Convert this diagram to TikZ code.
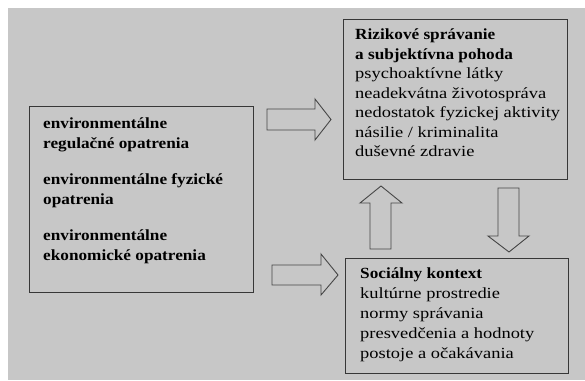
\documentclass[tikz,border=0pt]{standalone}
\usepackage{fontspec}
\setmainfont{Liberation Serif}[FakeStretch=1.19, BoldFeatures={FakeStretch=1.11}]
\definecolor{bg}{RGB}{199,199,199}
\definecolor{edge}{RGB}{55,55,55}
\definecolor{arrowedge}{RGB}{70,70,70}
\begin{document}
\begin{tikzpicture}[x=1pt,y=-1pt,
  box/.style={draw=edge, line width=1.2pt, inner sep=0, anchor=north west},
  txt/.style={anchor=base west, inner sep=0},
  blockarrow/.style={draw=arrowedge, line width=0.9pt, fill=bg, line join=miter}]
\useasboundingbox (0,0) rectangle (585,380);
\fill[bg] (8,8) rectangle (585,380);
% boxes
\node[box, minimum width=224pt, minimum height=186pt] (env) at (29,106) {};
\node[box, minimum width=224pt, minimum height=160pt] (risk) at (343,19) {};
\node[box, minimum width=223pt, minimum height=115pt] (social) at (345,258) {};
% texts
\node[txt] (envtxt) at (43,128) {\parbox[t]{210pt}{\raggedright\fontsize{15.5}{20.5}\selectfont\bfseries
environmentálne\\ regulačné opatrenia\\[15pt]
environmentálne fyzické\\ opatrenia\\[15pt]
environmentálne\\ ekonomické opatrenia}};
\node[txt] (risktxt) at (355,39.5) {\parbox[t]{215pt}{\raggedright\fontsize{15.5}{19.5}\selectfont
\textbf{Rizikové správanie}\\
\textbf{a subjektívna pohoda}\\
psychoaktívne látky\\
neadekvátna životospráva\\
nedostatok fyzickej aktivity\\
násilie / kriminalita\\
duševné zdravie}};
\node[txt] (socialtxt) at (360,278.5) {\parbox[t]{205pt}{\raggedright\fontsize{15.5}{20}\selectfont
\textbf{Sociálny kontext}\\
kultúrne prostredie\\
normy správania\\
presvedčenia a hodnoty\\
postoje a očakávania}};
% block arrows
\draw[blockarrow] (267,109) -- (315,109) -- (315,99) -- (331,119.5) -- (315,140) -- (315,130) -- (267,130) -- cycle;
\draw[blockarrow] (272,265) -- (321,265) -- (321,254) -- (338,275) -- (321,295) -- (321,285) -- (272,285) -- cycle;
\draw[blockarrow] (370,249) -- (370,203) -- (360,203) -- (381,186) -- (402,203) -- (391,203) -- (391,249) -- cycle;
\draw[blockarrow] (498,188) -- (498,236) -- (488,236) -- (509,252) -- (529,236) -- (519,236) -- (519,188) -- cycle;
\end{tikzpicture}
\end{document}
